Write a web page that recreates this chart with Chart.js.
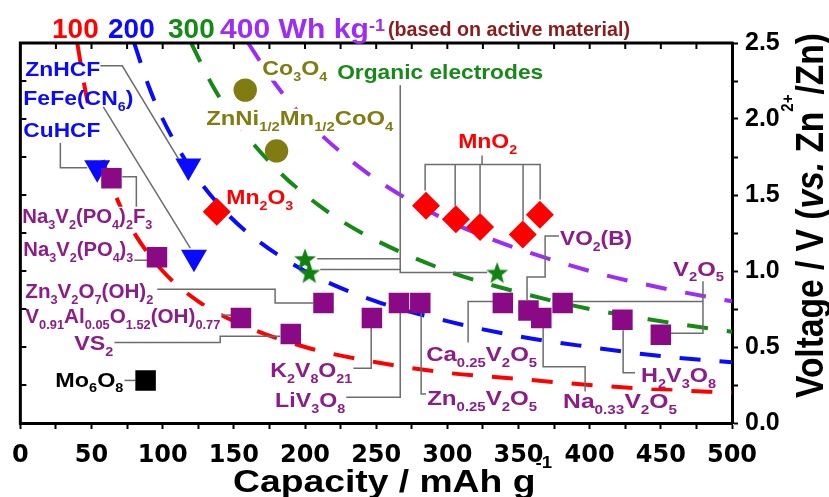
<!DOCTYPE html>
<html>
<head>
<meta charset="utf-8">
<script src="https://cdn.jsdelivr.net/npm/chart.js@4.4.1/dist/chart.umd.min.js"></script>
<style>
  html, body { margin: 0; padding: 0; background: #fff; }
</style>
</head>
<body>
<canvas id="chart" width="829" height="497"></canvas>
<script>
// energy density guide lines (Wh/kg)
const curve100Cap = [40, 45, 50, 60, 70, 80, 100, 125, 150, 200, 250, 300, 350, 400, 450, 500];
const curve100V = [2.5, 2.22, 2.0, 1.67, 1.43, 1.25, 1.0, 0.8, 0.67, 0.5, 0.4, 0.33, 0.29, 0.25, 0.22, 0.2];
const curve200Cap = [80, 90, 100, 120, 140, 160, 200, 250, 300, 350, 400, 450, 500];
const curve200V = [2.5, 2.22, 2.0, 1.67, 1.43, 1.25, 1.0, 0.8, 0.67, 0.57, 0.5, 0.44, 0.4];
const curve300Cap = [120, 135, 150, 180, 210, 240, 300, 350, 400, 450, 500];
const curve300V = [2.5, 2.22, 2.0, 1.67, 1.43, 1.25, 1.0, 0.86, 0.75, 0.67, 0.6];
const curve400Cap = [160, 180, 200, 240, 280, 320, 400, 450, 500];
const curve400V = [2.5, 2.22, 2.0, 1.67, 1.43, 1.25, 1.0, 0.89, 0.8];

// materials
const triCap = [54, 118, 122];          // CuHCF, ZnHCF, FeFe(CN6)
const triV = [1.68, 1.69, 1.09];
const circleCap = [158, 180];           // Co3O4, ZnNi1/2Mn1/2CoO4
const circleV = [2.19, 1.79];
const diamondCap = [138, 285, 306, 323, 353, 365];  // Mn2O3, MnO2 x5
const diamondV = [1.39, 1.43, 1.34, 1.29, 1.24, 1.37];
const starCap = [200, 203, 335];        // organic electrodes
const starV = [1.08, 0.99, 0.99];
const squareCap = [64, 96, 155, 190, 213, 247, 266, 281, 339, 357, 366, 381, 423, 450];
const squareV = [1.61, 1.09, 0.69, 0.585, 0.79, 0.69, 0.79, 0.79, 0.79, 0.74, 0.69, 0.79, 0.68, 0.58];
const blackCap = [88];                  // Mo6O8
const blackV = [0.28];

const COLORS = {
  red: "#ff0000",
  blue: "#0a0aff",
  green: "#168a16",
  violet: "#9d2cf5",
  olive: "#807c12",
  purple: "#8a0a86",
  purpleText: "#8c1c88",
  darkRed: "#8b1c1c",
  leader: "#6c6c6c",
};

// labels: text (_ sub, ^ sup), left x / baseline y in data units, fitted pixel width
const labels = [
  { t: "ZnHCF", x: 3.5, y: 2.28, w: 75, c: COLORS.blue, bg: false },
  { t: "FeFe(CN_6)", x: 2.1, y: 2.09, w: 110, c: COLORS.blue, bg: false },
  { t: "CuHCF", x: 2.1, y: 1.88, w: 77, c: COLORS.blue },
  { t: "Co_3O_4", x: 170, y: 2.29, w: 65, c: COLORS.olive },
  { t: "ZnNi_{1/2}Mn_{1/2}CoO_4", x: 130.6, y: 1.96, w: 187, c: COLORS.olive },
  { t: "Mn_2O_3", x: 144.7, y: 1.44, w: 67, c: COLORS.red },
  { t: "MnO_2", x: 307.6, y: 1.81, w: 59, c: COLORS.red },
  { t: "Organic electrodes", x: 222.6, y: 2.26, w: 206, c: COLORS.green },
  { t: "Na_3V_2(PO_4)_2F_3", x: 1.4, y: 1.315, w: 130, c: COLORS.purpleText },
  { t: "Na_3V_2(PO_4)_3", x: 2.1, y: 1.10, w: 110, c: COLORS.purpleText },
  { t: "Zn_3V_2O_7(OH)_2", x: 3.5, y: 0.82, w: 128, c: COLORS.purpleText },
  { t: "V_{0.91}Al_{0.05}O_{1.52}(OH)_{0.77}", x: 3.5, y: 0.66, w: 195, c: COLORS.purpleText },
  { t: "VS_2", x: 37.9, y: 0.48, w: 39, c: COLORS.purpleText },
  { t: "Mo_6O_8", x: 24.6, y: 0.24, w: 68, c: "#000" },
  { t: "K_2V_8O_{21}", x: 175.6, y: 0.30, w: 82, c: COLORS.purpleText },
  { t: "LiV_3O_8", x: 179, y: 0.105, w: 70, c: COLORS.purpleText },
  { t: "Zn_{0.25}V_2O_5", x: 285.8, y: 0.12, w: 110, c: COLORS.purpleText },
  { t: "Ca_{0.25}V_2O_5", x: 285.1, y: 0.41, w: 111, c: COLORS.purpleText },
  { t: "Na_{0.33}V_2O_5", x: 381.3, y: 0.10, w: 114, c: COLORS.purpleText },
  { t: "H_2V_3O_8", x: 436.1, y: 0.27, w: 75, c: COLORS.purpleText },
  { t: "V_2O_5", x: 458.6, y: 0.97, w: 51, c: COLORS.purpleText },
  { t: "VO_2(B)", x: 379.2, y: 1.17, w: 72, c: COLORS.purpleText },
];

// leader lines (data units)
const leaders = [
  [[56.2, 2.35], [71.6, 2.35], [111, 1.74]],
  [[58.3, 2.08], [119.4, 1.15]],
  [[28.1, 1.86], [28.1, 1.68], [47, 1.68]],
  [[71.6, 1.62], [81.5, 1.62], [81.5, 1.42]],
  [[47.8, 1.09], [47.8, 1.07], [89.2, 1.07]],
  [[96.2, 0.88], [179, 0.88], [179, 0.79], [205.8, 0.79]],
  [[132, 0.71], [148.2, 0.71]],
  [[64.6, 0.53], [140.4, 0.53], [140.4, 0.57], [182.6, 0.57]],
  [[71.6, 0.28], [80.8, 0.28]],
  [[224.7, 0.36], [246.5, 0.36], [246.5, 0.625]],
  [[224.7, 0.17], [266.9, 0.17], [266.9, 0.73]],
  [[281.6, 0.73], [281.6, 0.19], [285.8, 0.19]],
  [[314.6, 0.53], [314.6, 0.80], [333.6, 0.80]],
  [[379.2, 1.23], [368.7, 1.23], [368.7, 0.96], [356, 0.96], [356, 0.81]],
  [[367.3, 0.625], [367.3, 0.37], [396.8, 0.37], [396.8, 0.20]],
  [[423.5, 0.61], [423.5, 0.33], [431.9, 0.33]],
  [[388.3, 0.80], [479.6, 0.80]],
  [[479.6, 0.96], [479.6, 0.59], [456.5, 0.59]],
  [[324.4, 1.76], [324.4, 1.70]],
  [[284.4, 1.53], [284.4, 1.70], [365.2, 1.70], [365.2, 1.47]],
  [[305.5, 1.70], [305.5, 1.43]],
  [[323, 1.70], [323, 1.38]],
  [[353.2, 1.70], [353.2, 1.33]],
  [[266.9, 2.24], [266.9, 0.99], [328, 0.99]],
  [[208.6, 1.08], [266.9, 1.08]],
  [[210.7, 1.01], [266.9, 1.01]],
];

const ARIAL = '"Liberation Sans", Arial, sans-serif';
const pairs = (xs, ys) => xs.map((x, i) => ({ x, y: ys[i] }));

function starImage(size, color) {
  const c = document.createElement("canvas");
  c.width = size;
  c.height = size;
  const g = c.getContext("2d");
  const R = size * 0.48;
  const cy = (size - 1.81 * R) / 2 + R;
  g.fillStyle = color;
  g.beginPath();
  for (let i = 0; i < 10; i++) {
    const a = -Math.PI / 2 + (i * Math.PI) / 5;
    const r = i % 2 ? R * 0.42 : R;
    g.lineTo(size / 2 + r * Math.cos(a), cy + r * Math.sin(a));
  }
  g.closePath();
  g.fill();
  return c;
}

function curveSet(xs, ys, color) {
  return {
    type: "line",
    data: pairs(xs, ys),
    borderColor: color,
    borderWidth: 4,
    borderDash: [21, 19],
    pointRadius: 0,
    fill: false,
    cubicInterpolationMode: "monotone",
    order: 1,
  };
}

function markerSet(xs, ys, style, color, radius, rotation) {
  return {
    type: "scatter",
    data: pairs(xs, ys),
    pointStyle: style,
    pointRadius: radius,
    pointRotation: rotation || 0,
    backgroundColor: color,
    borderWidth: 0,
    order: 0,
    marker: true,
  };
}

function richRuns(text) {
  const runs = [];
  let buf = "", it = false, i = 0;
  const flush = () => { if (buf) runs.push({ t: buf, k: 0, it }); buf = ""; };
  while (i < text.length) {
    const ch = text[i];
    if (ch === "*") { flush(); it = !it; i++; }
    else if (ch === "_" || ch === "^") {
      flush();
      let t;
      if (text[i + 1] === "{") { const j = text.indexOf("}", i); t = text.slice(i + 2, j); i = j + 1; }
      else { t = text[i + 1]; i += 2; }
      runs.push({ t, k: ch === "_" ? 1 : -1, it });
    } else { buf += ch; i++; }
  }
  flush();
  return runs;
}

function drawRich(ctx, text, x, y, o) {
  const size = o.size;
  const fam = o.family || ARIAL;
  const subSize = o.subSize || 0.62, subDy = o.subDy || 0.28;
  const supSize = o.supSize || 0.6, supDy = o.supDy || -0.4;
  const runs = richRuns(text);
  let total = 0;
  runs.forEach((r) => {
    r.size = r.k === 1 ? size * subSize : r.k === -1 ? size * supSize : size;
    r.font = `${r.it ? "italic " : ""}bold ${r.size}px ${fam}`;
    ctx.font = r.font;
    r.w = ctx.measureText(r.t).width;
    total += r.w;
  });
  const sx = o.width ? o.width / total : 1;
  ctx.save();
  ctx.translate(x, y);
  if (o.rotate) ctx.rotate(o.rotate);
  ctx.scale(sx, o.sy || 1);
  if (o.bg) {
    ctx.fillStyle = "#fff";
    ctx.fillRect(-1, -size * 0.78, total + 2, size * 1.05);
  }
  ctx.fillStyle = o.color;
  ctx.textAlign = "left";
  ctx.textBaseline = "alphabetic";
  let cx = 0;
  runs.forEach((r) => {
    ctx.font = r.font;
    const dy = r.k === 1 ? size * subDy : r.k === -1 ? size * supDy : 0;
    ctx.fillText(r.t, cx, dy);
    cx += r.w;
  });
  ctx.restore();
}

let annotated = false;
const annotatePlugin = {
  id: "annotate",
  beforeDatasetsDraw() { annotated = false; },
  beforeDatasetDraw(chart, args) {
    if (annotated || !chart.data.datasets[args.index].marker) return;
    annotated = true;
    const { ctx, scales: { x, y } } = chart;
    ctx.save();
    ctx.strokeStyle = COLORS.leader;
    ctx.lineWidth = 1.5;
    leaders.forEach((pts) => {
      ctx.beginPath();
      pts.forEach(([px, py], i) => {
        const X = x.getPixelForValue(px), Y = y.getPixelForValue(py);
        i ? ctx.lineTo(X, Y) : ctx.moveTo(X, Y);
      });
      ctx.stroke();
    });
    labels.forEach((l) => {
      drawRich(ctx, l.t, x.getPixelForValue(l.x), y.getPixelForValue(l.y), {
        size: 21, width: l.w, color: l.c, bg: l.bg !== false,
      });
    });
    ctx.restore();
  },
  afterDraw(chart) {
    const { ctx, chartArea: a, scales: { x, y } } = chart;
    ctx.save();
    // mirrored frame with inward ticks
    ctx.strokeStyle = "#000";
    ctx.lineWidth = 3;
    ctx.beginPath();
    ctx.moveTo(a.left, a.bottom + 1.5);
    ctx.lineTo(a.left, a.top);
    ctx.lineTo(a.right + 1.5, a.top);
    ctx.stroke();
    ctx.lineWidth = 2;
    ctx.beginPath();
    x.ticks.forEach((t) => {
      const px = x.getPixelForValue(t.value);
      ctx.moveTo(px, a.top);
      ctx.lineTo(px, a.top + 6);
    });
    y.ticks.forEach((t) => {
      const py = y.getPixelForValue(t.value);
      ctx.moveTo(a.left, py);
      ctx.lineTo(a.left + 6, py);
    });
    ctx.stroke();

    // top title
    drawRich(ctx, "100", 52, 38, { size: 28, color: COLORS.red });
    drawRich(ctx, "200", 108, 38, { size: 28, color: COLORS.blue });
    drawRich(ctx, "300", 168, 38, { size: 28, color: COLORS.green });
    drawRich(ctx, "400 Wh kg^{-1}", 220, 38, { size: 28, color: COLORS.violet, width: 165, supSize: 0.6, supDy: -0.24 });
    drawRich(ctx, "(based on active material)", 388, 36, { size: 20, color: COLORS.darkRed, width: 242 });

    // axis titles
    drawRich(ctx, "Capacity / mAh g^{-1}", 233, 492, { size: 32, color: "#000", width: 319, supSize: 0.5, supDy: -0.74 });
    drawRich(ctx, "Voltage / V (*vs.* Zn^{2+}/Zn)", 823, 398, {
      size: 33, color: "#000", width: 365, sy: 1.15, rotate: -Math.PI / 2, supSize: 0.45, supDy: -0.78,
    });
    ctx.restore();
  },
};

const datasets = [
  markerSet(squareCap, squareV, "rect", COLORS.purple, 14.5),
  markerSet(blackCap, blackV, "rect", "#000", 14.5),
  markerSet(diamondCap, diamondV, "rectRot", COLORS.red, 14),
  markerSet(triCap, triV, "triangle", COLORS.blue, 15, 180),
  markerSet(circleCap, circleV, "circle", COLORS.olive, 11.7),
  markerSet(starCap, starV, starImage(24, "#118211"), "#118211", 11),
  curveSet(curve100Cap, curve100V, COLORS.red),
  curveSet(curve200Cap, curve200V, COLORS.blue),
  curveSet(curve300Cap, curve300V, COLORS.green),
  curveSet(curve400Cap, curve400V, COLORS.violet),
];

new Chart(document.getElementById("chart"), {
  type: "scatter",
  data: { datasets },
  options: {
    responsive: false,
    animation: false,
    events: [],
    layout: { padding: { left: 20, top: 43, right: 0, bottom: 0 } },
    plugins: { legend: { display: false }, tooltip: { enabled: false } },
    scales: {
      x: {
        type: "linear",
        position: "bottom",
        min: 0,
        max: 500,
        afterFit: (s) => { s.height = 74; },
        ticks: {
          stepSize: 25,
          autoSkip: false,
          maxRotation: 0,
          padding: 12,
          color: "#000",
          font: { family: "DejaVu Sans", weight: "bold", size: 24 },
          callback: (v) => (v % 50 === 0 ? String(v) : ""),
        },
        grid: { drawOnChartArea: false, drawTicks: true, tickLength: 6, tickWidth: 2, tickColor: "#000" },
        border: { display: true, width: 3, color: "#000" },
      },
      y: {
        type: "linear",
        position: "right",
        min: 0,
        max: 2.5,
        afterFit: (s) => { s.width = 97; },
        ticks: {
          stepSize: 0.25,
          autoSkip: false,
          padding: 7,
          color: "#000",
          font: { family: "Liberation Sans", weight: "bold", size: 25 },
          callback: (v) => (Math.round(v * 100) % 50 === 0 ? v.toFixed(1) : ""),
        },
        grid: { drawOnChartArea: false, drawTicks: true, tickLength: 6, tickWidth: 2, tickColor: "#000" },
        border: { display: true, width: 3, color: "#000" },
      },
    },
  },
  plugins: [annotatePlugin],
});
</script>
</body>
</html>
